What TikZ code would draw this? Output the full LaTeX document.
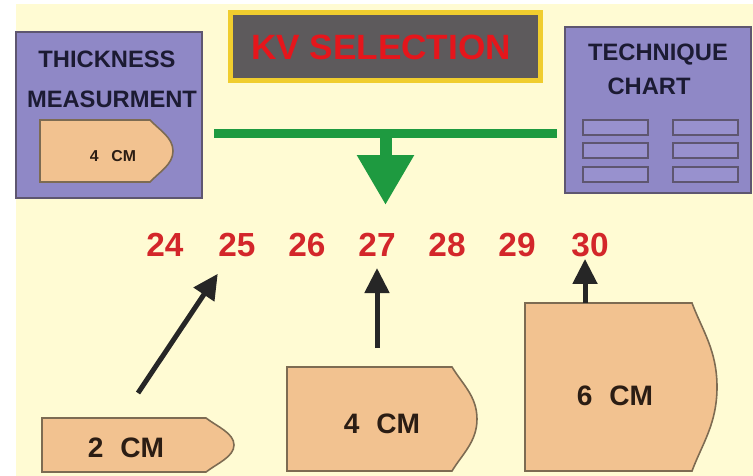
\documentclass[tikz,border=0pt]{standalone}
\usepackage{fontspec}
\setmainfont{Liberation Sans}
\usetikzlibrary{
  positioning,
  arrows.meta
}

\definecolor{paper}{HTML}{FFFBD3}
\definecolor{lilac}{HTML}{8F88C6}
\definecolor{lilacslot}{HTML}{9891CE}
\definecolor{lilacline}{HTML}{5E5670}
\definecolor{peach}{HTML}{F2C290}
\definecolor{peachline}{HTML}{7D6B52}
\definecolor{navytext}{HTML}{1C1B33}
\definecolor{inktext}{HTML}{2B1D14}
\definecolor{kvgrey}{HTML}{5D5A5C}
\definecolor{kvgold}{HTML}{F0CD2E}
\definecolor{kvred}{HTML}{E5161C}
\definecolor{numred}{HTML}{D3262A}
\definecolor{busgreen}{HTML}{1E9A40}

% left, top, end of flat edge, tip, bottom
\newcommand{\cutpiece}[5]{%
  \draw[piece] (#1,#2) -- (#3,#2)
    .. controls ({#3+0.4*(#4-#3)},{#2+0.16*(#5-#2)}) and (#4,{#2+0.28*(#5-#2)}) .. (#4,{(#2+#5)/2})
    .. controls (#4,{#5-0.28*(#5-#2)}) and ({#3+0.4*(#4-#3)},{#5-0.16*(#5-#2)}) .. (#3,#5)
    -- (#1,#5) -- cycle;}

\begin{document}
\begin{tikzpicture}[
  x=0.02cm,
  y=-0.02cm,
  panel/.style={
    rectangle,
    draw=lilacline,
    fill=lilac,
    line width=1.2pt,
    minimum width=3.72cm,
    minimum height=3.32cm
  },
  paneltext/.style={
    text=navytext,
    inner sep=0pt,
    font=\fontsize{13.5}{15}\selectfont\bfseries
  },
  slot/.style={
    draw=lilacline,
    fill=lilacslot,
    line width=0.8pt
  },
  piece/.style={
    draw=peachline,
    fill=peach,
    line width=0.9pt
  },
  cmtext/.style={
    text=inktext,
    inner sep=0pt,
    font=\fontsize{16}{18}\selectfont\bfseries
  },
  num/.style={
    text=numred,
    inner sep=0pt,
    font=\fontsize{19}{21}\selectfont\bfseries
  },
  arrow/.style={
    -{Triangle[length=0.5cm,width=0.48cm]},
    line width=0.1cm,
    draw=black!85
  },
  bus/.style={
    line width=0.18cm,
    draw=busgreen
  }
]

% Canvas
\useasboundingbox (0,0) rectangle (753,476);
\fill[white] (0,0) rectangle (753,476);
\fill[paper] (16,4) rectangle (753,476);

% Title
\node[rectangle, fill=kvgrey, draw=kvgold, line width=0.1cm,
      minimum width=6.2cm, minimum height=1.36cm] (kv) at (385.5,46.5) {};
\node[text=kvred, inner sep=0pt, font=\fontsize{20}{22}\selectfont\bfseries] (kvT) at (381,47) {KV SELECTION};

% Thickness panel
\node[panel] (thick) at (109,115) {};
\node[paneltext] (thickA) at (107,59) {THICKNESS};
\node[paneltext] (thickB) at (112,99) {MEASURMENT};
\cutpiece{40}{120}{150}{173}{182}
\node[cmtext, font=\fontsize{9}{10}\selectfont\bfseries] (cm4s) at (113,156) {4\hspace{0.8em}CM};

% Technique chart panel
\node[panel] (chart) at (658,110) {};
\node[paneltext] (chartA) at (658,55) {TECHNIQUE};
\node[paneltext] (chartB) at (649,86) {CHART};
\draw[slot] (583,120) rectangle (648,135);
\draw[slot] (673,120) rectangle (738,135);
\draw[slot] (583,143) rectangle (648,158);
\draw[slot] (673,143) rectangle (738,158);
\draw[slot] (583,167) rectangle (648,182);
\draw[slot] (673,167) rectangle (738,182);

% Green bus and drop
\coordinate (busL) at (214,134);
\coordinate (busR) at (557,134);
\draw[bus] (busL) -- (busR);
\coordinate (drop) at (kv.south |- busL);
\draw[busgreen, line width=0.24cm, -{Triangle[length=1cm,width=1.08cm]}] (drop) -- ++(0,71);

% kV scale
\node[num] (n24) at (165,245) {24};
\node[num] (n25) at (237,245) {25};
\node[num] (n26) at (307,245) {26};
\node[num] (n27) at (377,245) {27};
\node[num] (n28) at (447,245) {28};
\node[num] (n29) at (517,245) {29};
\node[num] (n30) at (590,245) {30};

% Pieces
\cutpiece{42}{418}{206}{234}{472}
\node[cmtext] (cm2) at (126,448) {2\hspace{0.6em}CM};
\cutpiece{287}{367}{452}{477}{471}
\node[cmtext] (cm4) at (382,424) {4\hspace{0.6em}CM};
\cutpiece{525}{303}{692}{717}{471}
\node[cmtext] (cm6) at (615,396) {6\hspace{0.6em}CM};

% Arrows
\coordinate (lift2) at (138,393);
\coordinate (lift4) at (377,348);
\coordinate (lift6) at (585,303);
\draw[arrow, shorten >=0.4cm] (lift2) -- (n25);
\draw[arrow, shorten >=0.22cm] (lift4) -- (lift4 |- n27.south);
\draw[arrow, shorten >=1pt] (lift6) -- (lift6 |- n30.south);

\end{tikzpicture}
\end{document}
